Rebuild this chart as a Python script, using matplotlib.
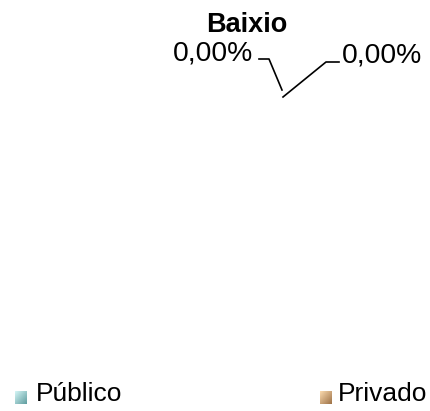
import numpy as np
import matplotlib.pyplot as plt
from matplotlib.colors import LinearSegmentedColormap

categories = ['Público', 'Privado']
values = [0.0, 0.0]
title = 'Baixio'

light = [(0.83, 0.96, 0.96), (0.98, 0.85, 0.68)]
dark = [(0.38, 0.62, 0.63), (0.62, 0.45, 0.28)]

fig = plt.figure(figsize=(4.31, 4.11), dpi=100)
ax = fig.add_axes([0, 0, 1, 1])
ax.set_xlim(0, 431)
ax.set_ylim(411, 0)
ax.axis('off')

font = 'Liberation Sans'
ax.text(247, 25, title, fontsize=19.5, fontweight='bold', family=font,
        ha='center', va='center')

def fmt(v):
    return f'{v:.2f}%'.replace('.', ',')

# labels with leader lines (zero-sized slices, everything collapses to centre)
ax.text(253, 53, fmt(values[0]), fontsize=20.3, family=font, ha='right', va='center')
ax.plot([259, 269, 282], [59, 59, 90], color='black', lw=1.2)
ax.text(342, 55, fmt(values[1]), fontsize=20.3, family=font, ha='left', va='center')
ax.plot([283, 326, 339], [97, 62, 62], color='black', lw=1.2)

# legend with gradient squares
leg_x = [15, 320]
gap = [21, 18]
grad = np.add.outer(np.linspace(0, 1, 20), np.linspace(0, 1, 20)) / 2
for i, name in enumerate(categories):
    cmap = LinearSegmentedColormap.from_list('g%d' % i, [light[i], dark[i]])
    x0 = leg_x[i]
    ax.imshow(grad, cmap=cmap, extent=[x0, x0 + 12, 404, 391], zorder=3)
    ax.text(x0 + gap[i], 394, name, fontsize=19, family=font, ha='left', va='center')

ax.set_xlim(0, 431)
ax.set_ylim(411, 0)
ax.set_aspect('auto')
fig.savefig('out.png', dpi=100)
